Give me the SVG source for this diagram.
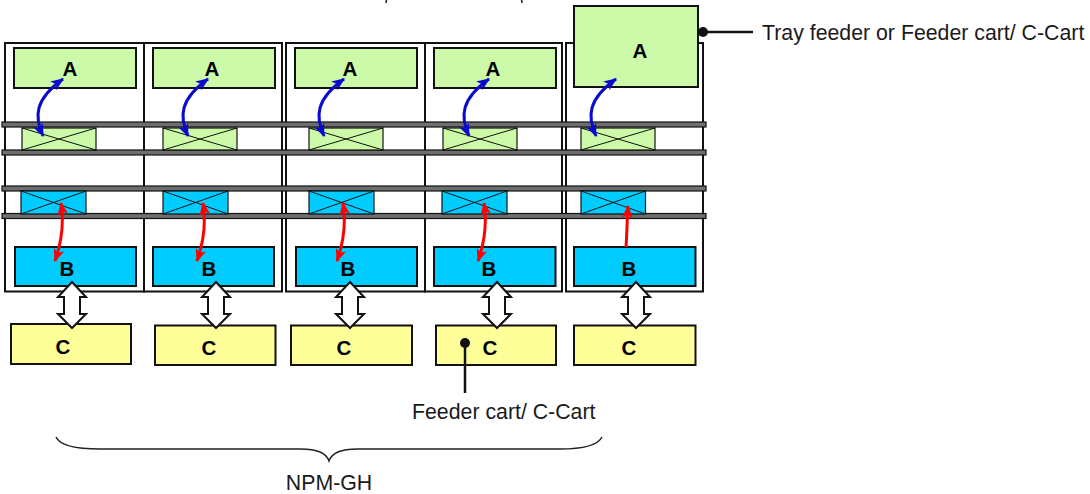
<svg xmlns="http://www.w3.org/2000/svg" width="1090" height="494" viewBox="0 0 1090 494">
  <defs>
    <style>
      .frame { fill: #ffffff; stroke: #111111; stroke-width: 2; }
      .rail { fill: #6e6e6e; stroke: #111111; stroke-width: 1.2; }
      .boxA { fill: #ccfaa8; stroke: #111111; stroke-width: 2; }
      .boxB { fill: #00ccff; stroke: #111111; stroke-width: 2; }
      .boxC { fill: #ffff99; stroke: #111111; stroke-width: 2; }
      .xg { fill: #ccfaa8; stroke: #111111; stroke-width: 1.2; }
      .xb { fill: #00ccff; stroke: #111111; stroke-width: 1.2; }
      .cross { stroke: #111111; stroke-width: 1; fill: none; }
      .lbl { font-family: "Liberation Sans", Arial, sans-serif; font-weight: bold; font-size: 20.5px; fill: #000000; text-anchor: middle; }
      .note { font-family: "Liberation Sans", Arial, sans-serif; font-size: 21.3px; fill: #1a1a1a; }
      .blue { fill: none; stroke: #0a0acc; stroke-width: 3; marker-start: url(#hb); marker-end: url(#hb); }
      .red { fill: none; stroke: #ff0000; stroke-width: 3; }
      .dbl { fill: #ffffff; stroke: #111111; stroke-width: 2; stroke-linejoin: miter; }
      .lead { stroke: #111111; stroke-width: 2.5; fill: none; }
    </style>
    <marker id="hb" viewBox="0 0 12 10" refX="11" refY="5" markerWidth="13" markerHeight="11" markerUnits="userSpaceOnUse" orient="auto-start-reverse">
      <path d="M0,0 L12,5 L0,10 L3,5 Z" fill="#0a0acc"/>
    </marker>
    <marker id="hr" viewBox="0 0 12 10" refX="11" refY="5" markerWidth="13" markerHeight="11" markerUnits="userSpaceOnUse" orient="auto-start-reverse">
      <path d="M0,0 L12,5 L0,10 L3,5 Z" fill="#ff0000"/>
    </marker>
    <!-- hollow two-way block arrow, centred on x=0 -->
    <path id="dblArrow" class="dbl" d="M0,282 L14,297 L8,297 L8,314 L14,314 L0,328 L-14,314 L-8,314 L-8,297 L-14,297 Z"/>
    <path id="blueCurve" class="blue" d="M43,136 C34,116 35,99 63,79"/>
    <path id="redCurve" class="red" d="M61,203 C64,222 62,241 55,261" marker-start="url(#hr)" marker-end="url(#hr)"/>
  </defs>

  <!-- cut-off brace at the top edge -->
  <path d="M386,3 C386,-4 392,-6 400,-6 L508,-6 C516,-6 522,-4 522,3" fill="none" stroke="#222222" stroke-width="1.5"/>

  <!-- machine frames -->
  <g id="frames">
    <rect class="frame" x="5" y="43" width="139" height="248.5"/>
    <rect class="frame" x="144" y="43" width="138" height="248.5"/>
    <rect class="frame" x="286" y="43" width="139" height="248.5"/>
    <rect class="frame" x="425" y="43" width="137" height="248.5"/>
    <rect class="frame" x="566" y="43" width="137" height="248.5"/>
  </g>

  <!-- conveyor rails -->
  <g id="rails">
    <rect class="rail" x="2" y="122" width="704" height="5"/>
    <rect class="rail" x="2" y="150" width="704" height="5"/>
    <rect class="rail" x="2" y="186" width="704" height="5"/>
    <rect class="rail" x="2" y="213.5" width="704" height="5"/>
  </g>

  <!-- module 1 -->
  <g id="module1">
    <rect class="boxA" x="14" y="48" width="122" height="40"/>
    <text class="lbl" x="70" y="76">A</text>
    <rect class="xg" x="22" y="128" width="74" height="22"/>
    <path class="cross" d="M22,128 L96,150 M22,150 L96,128"/>
    <rect class="xb" x="21" y="191" width="65" height="23"/>
    <path class="cross" d="M21,191 L86,214 M21,214 L86,191"/>
    <rect class="boxB" x="15" y="247" width="121" height="39"/>
    <text class="lbl" x="67" y="276">B</text>
    <rect class="boxC" x="11" y="324" width="120" height="40"/>
    <text class="lbl" x="63" y="354">C</text>
  </g>

  <!-- module 2 -->
  <g id="module2">
    <rect class="boxA" x="153" y="48" width="122" height="40"/>
    <text class="lbl" x="212" y="76">A</text>
    <rect class="xg" x="163" y="128" width="74" height="22"/>
    <path class="cross" d="M163,128 L237,150 M163,150 L237,128"/>
    <rect class="xb" x="163" y="191" width="65" height="23"/>
    <path class="cross" d="M163,191 L228,214 M163,214 L228,191"/>
    <rect class="boxB" x="153" y="247" width="121" height="39"/>
    <text class="lbl" x="209" y="276">B</text>
    <rect class="boxC" x="155" y="325.5" width="120.5" height="39.5"/>
    <text class="lbl" x="209" y="355">C</text>
  </g>

  <!-- module 3 -->
  <g id="module3">
    <rect class="boxA" x="295" y="48" width="122" height="40"/>
    <text class="lbl" x="350" y="76">A</text>
    <rect class="xg" x="309" y="128" width="74" height="22"/>
    <path class="cross" d="M309,128 L383,150 M309,150 L383,128"/>
    <rect class="xb" x="309" y="191" width="65" height="23"/>
    <path class="cross" d="M309,191 L374,214 M309,214 L374,191"/>
    <rect class="boxB" x="296" y="247" width="121" height="39"/>
    <text class="lbl" x="348" y="276">B</text>
    <rect class="boxC" x="291" y="325.5" width="121" height="39.5"/>
    <text class="lbl" x="344" y="355">C</text>
  </g>

  <!-- module 4 -->
  <g id="module4">
    <rect class="boxA" x="434" y="48" width="122" height="40"/>
    <text class="lbl" x="493" y="76">A</text>
    <rect class="xg" x="443" y="128" width="74" height="22"/>
    <path class="cross" d="M443,128 L517,150 M443,150 L517,128"/>
    <rect class="xb" x="442" y="191" width="65" height="23"/>
    <path class="cross" d="M442,191 L507,214 M442,214 L507,191"/>
    <rect class="boxB" x="434" y="247" width="121.5" height="39"/>
    <text class="lbl" x="489" y="276">B</text>
    <rect class="boxC" x="436" y="325.5" width="120" height="39.5"/>
    <text class="lbl" x="490" y="355">C</text>
  </g>

  <!-- module 5 with tray feeder -->
  <g id="module5">
    <rect class="boxA" x="574" y="6" width="124" height="81"/>
    <text class="lbl" x="640" y="58">A</text>
    <rect class="xg" x="581" y="128" width="74" height="22"/>
    <path class="cross" d="M581,128 L655,150 M581,150 L655,128"/>
    <rect class="xb" x="581" y="191" width="64.5" height="23"/>
    <path class="cross" d="M581,191 L645.5,214 M581,214 L645.5,191"/>
    <rect class="boxB" x="574" y="247" width="121.5" height="39"/>
    <text class="lbl" x="629" y="276">B</text>
    <rect class="boxC" x="574" y="325.5" width="121.5" height="39.5"/>
    <text class="lbl" x="629" y="355">C</text>
  </g>

  <!-- connectors -->
  <g id="connectors">
    <!-- A to upper conveyor -->
    <use href="#blueCurve"/>
    <use href="#blueCurve" transform="translate(145,0)"/>
    <use href="#blueCurve" transform="translate(281,0)"/>
    <use href="#blueCurve" transform="translate(426,0)"/>
    <use href="#blueCurve" transform="translate(553,0)"/>
    <!-- B to lower conveyor -->
    <use href="#redCurve"/>
    <use href="#redCurve" transform="translate(142,0)"/>
    <use href="#redCurve" transform="translate(282,0)"/>
    <use href="#redCurve" transform="translate(423,0)"/>
    <path class="red" d="M626,247 C627,233 627,221 628,206" marker-end="url(#hr)"/>
    <!-- B to C exchange -->
    <use href="#dblArrow" transform="translate(72,0)"/>
    <use href="#dblArrow" transform="translate(216,0)"/>
    <use href="#dblArrow" transform="translate(350,0)"/>
    <use href="#dblArrow" transform="translate(497,0)"/>
    <use href="#dblArrow" transform="translate(636,0)"/>
  </g>

  <!-- callouts -->
  <g id="callout-tray">
    <circle cx="703" cy="32" r="5" fill="#111111"/>
    <line class="lead" x1="703" y1="32" x2="753" y2="32"/>
    <text class="note" x="762" y="40">Tray feeder or Feeder cart/ C-Cart</text>
  </g>
  <g id="callout-cart">
    <circle cx="465" cy="343" r="5" fill="#111111"/>
    <line class="lead" x1="465" y1="343" x2="465" y2="393"/>
    <text class="note" x="412" y="419">Feeder cart/ C-Cart</text>
  </g>

  <!-- line brace -->
  <g id="brace-npm">
    <path d="M56,437 C60,446 76,449 100,449 L300,449 C318,449 326,453 329,461 C332,453 340,449 358,449 L560,449 C584,449 598,445 602,437" fill="none" stroke="#222222" stroke-width="1.5"/>
    <text class="note" x="329" y="490" text-anchor="middle" font-size="25.5">NPM-GH</text>
  </g>
</svg>
